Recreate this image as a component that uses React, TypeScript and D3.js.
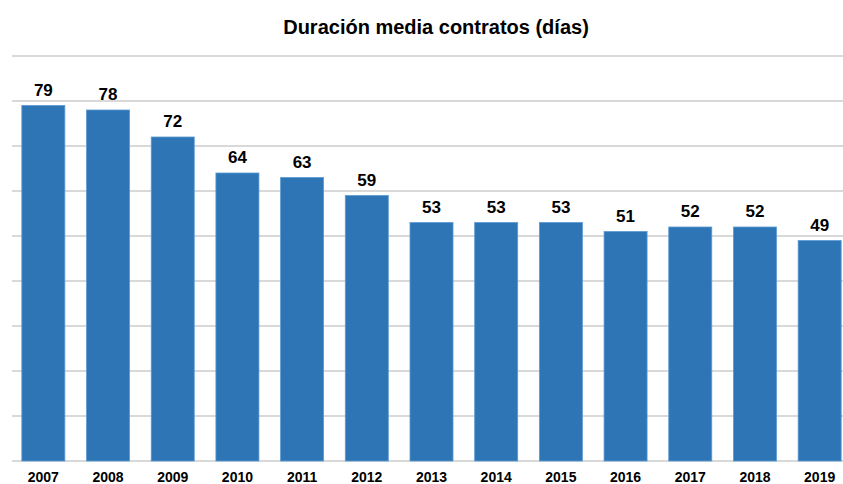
import React from 'react';
import * as d3 from 'd3';

const years = ['2007', '2008', '2009', '2010', '2011', '2012', '2013', '2014', '2015', '2016', '2017', '2018', '2019'];
const values = [79, 78, 72, 64, 63, 59, 53, 53, 53, 51, 52, 52, 49];
const yTicks = [0, 10, 20, 30, 40, 50, 60, 70, 80, 90];

const svgWidth = 843, svgHeight = 484;
const plot = { left: 12, right: 843, top: 56, bottom: 461 };

const App = () => {
  const xScale = d3.scaleBand<string>()
    .domain(years)
    .range([11, 852])
    .paddingInner(0.335)
    .paddingOuter(0.1675);

  const yScale = d3.scaleLinear()
    .domain([0, 90])
    .range([plot.bottom, plot.top]);

  const font = 'Arial, "Liberation Sans", sans-serif';

  return <svg
    width={svgWidth}
    height={svgHeight}
    style={{ position: 'absolute', left: 0, top: 0, background: '#fff' }}
  >
    {/* title */}
    <text
      x={436}
      y={34}
      textAnchor='middle'
      fontFamily={font}
      fontWeight='bold'
      fontSize={20}
      fill='#000'
    >Duración media contratos (días)</text>

    {/* grid */}
    <g className='grid'>
      {yTicks.map(t => <line
        key={t}
        x1={plot.left}
        x2={plot.right}
        y1={yScale(t)}
        y2={yScale(t)}
        stroke='#d9d9d9'
        strokeWidth={2}
      ></line>)}
    </g>

    {/* bars */}
    <g className='bars'>
      {years.map((yr, i) => {
        const v = values[i];
        const x = xScale(yr) as number;
        return <g key={yr}>
          <rect
            x={x}
            y={yScale(v)}
            width={xScale.bandwidth()}
            height={yScale(0) - yScale(v)}
            fill='#2e75b6'
            stroke='#5b9bd5'
            strokeWidth={0.8}
          ></rect>
          <text
            x={x + xScale.bandwidth() / 2}
            y={yScale(v) - 10}
            textAnchor='middle'
            fontFamily={font}
            fontWeight='bold'
            fontSize={17}
            fill='#000'
          >{v}</text>
          <text
            x={x + xScale.bandwidth() / 2}
            y={482}
            textAnchor='middle'
            fontFamily={font}
            fontWeight='bold'
            fontSize={14}
            fill='#000'
          >{yr}</text>
        </g>
      })}
    </g>
  </svg>
}

export default App;
